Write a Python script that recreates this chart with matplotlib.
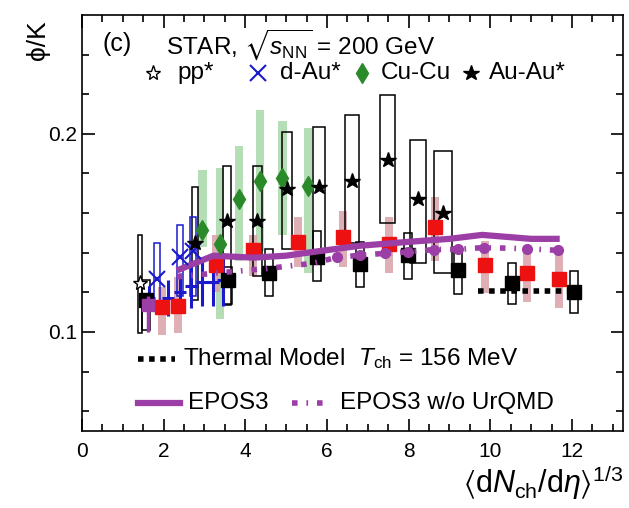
import numpy as np
import matplotlib
matplotlib.use("Agg")
import matplotlib.pyplot as plt
from matplotlib.patches import Rectangle

plt.rcParams['font.family'] = ['Liberation Sans', 'DejaVu Sans']
plt.rcParams['mathtext.fontset'] = 'custom'
plt.rcParams['mathtext.rm'] = 'Liberation Sans'
plt.rcParams['mathtext.it'] = 'Liberation Sans:italic'
plt.rcParams['mathtext.fallback'] = 'stixsans'

# STAR pp*
pp_x = [1.42]
pp_y = [0.1246]
pp_lo = [0.0995]
pp_hi = [0.149]

# STAR d-Au*
dau_x = [1.84, 2.40, 2.72]
dau_y = [0.1266, 0.1377, 0.1407]
dau_lo = [0.114, 0.118, 0.118]
dau_hi = [0.145, 0.154, 0.158]

# STAR Cu-Cu
cucu_x = [2.95, 3.38, 3.85, 4.36, 4.91, 5.54]
cucu_y = [0.1516, 0.1445, 0.1673, 0.176, 0.1779, 0.1735]
cucu_lo = [0.143, 0.1065, 0.136, 0.141, 0.149, 0.130]
cucu_hi = [0.182, 0.183, 0.194, 0.212, 0.2065, 0.203]

# STAR Au-Au*
auau_x = [2.77, 3.55, 4.29, 5.02, 5.80, 6.61, 7.49, 8.23, 8.84]
auau_y = [0.145, 0.156, 0.156, 0.172, 0.173, 0.176, 0.187, 0.167, 0.160]
auau_lo = [0.116, 0.1135, 0.128, 0.142, 0.141, 0.145, 0.155, 0.135, 0.130]
auau_hi = [0.173, 0.184, 0.184, 0.201, 0.2035, 0.2095, 0.2196, 0.197, 0.1915]

# blue crosses (small systems, other experiment)
bp_x = [1.65, 2.10, 2.40, 2.68, 2.95, 3.20, 3.45]
bp_y = [0.117, 0.117, 0.120, 0.123, 0.125, 0.125, 0.126]
bp_err = [0.006, 0.009, 0.010, 0.011, 0.012, 0.012, 0.013]

# red squares
red_x = [1.96, 2.35, 3.28, 4.19, 5.29, 6.39, 7.52, 8.65, 9.87, 10.90, 11.68]
red_y = [0.1126, 0.113, 0.1337, 0.1412, 0.1452, 0.1477, 0.1442, 0.1528, 0.1337, 0.1296, 0.1266]
red_lo = [0.0985, 0.0995, 0.120, 0.128, 0.133, 0.133, 0.130, 0.136, 0.1196, 0.115, 0.112]
red_hi = [0.1226, 0.1276, 0.149, 0.149, 0.158, 0.161, 0.158, 0.168, 0.146, 0.1427, 0.141]

# black squares
blk_x = [1.57, 3.58, 4.58, 5.75, 6.81, 7.98, 9.21, 10.53, 12.05]
blk_y = [0.116, 0.126, 0.1296, 0.1377, 0.1344, 0.1387, 0.1312, 0.1246, 0.1201]
blk_lo = [0.101, 0.114, 0.118, 0.1256, 0.1226, 0.1266, 0.119, 0.114, 0.1095]
blk_hi = [0.126, 0.133, 0.1417, 0.1508, 0.1452, 0.1497, 0.1427, 0.135, 0.131]

# purple square
pur_x = [1.62]
pur_y = [0.1136]
pur_lo = [0.100]
pur_hi = [0.118]

# models
epos_x = [2.32, 3.22, 4.2, 5.0, 5.7, 6.8, 8.0, 9.0, 9.8, 11.0, 11.7]
epos_y = [0.131, 0.1385, 0.1375, 0.1385, 0.1405, 0.1435, 0.1455, 0.147, 0.149, 0.147, 0.147]
nou_x = [2.32, 3.21, 4.53, 5.66, 6.25, 6.81, 7.42, 7.98, 8.62, 9.21, 9.85, 10.89, 11.65]
nou_y = [0.1278, 0.1296, 0.132, 0.1347, 0.1377, 0.1387, 0.1397, 0.1404, 0.1416, 0.1417, 0.1426, 0.142, 0.1412]
th_x = [9.7, 12.25]
th_y = [0.1206, 0.1206]

purple = '#9b3ea6'
green_fill = '#a9d9a9'
pink_fill = '#d9a3aa'
blue = '#1a1acc'
dashdot = (0, (1.0, 1.6, 0.3, 1.6))

fig = plt.figure(figsize=(6.29, 5.08), dpi=100)
ax = fig.add_axes([82/629, 1-431/508, 541/629, 416/508])


def boxes(xs, lo, hi, w, **kw):
    for x, l, h in zip(xs, lo, hi):
        ax.add_patch(Rectangle((x - w(x)/2, l), w(x), h - l, **kw))


# shaded sys boxes
boxes(cucu_x, cucu_lo, cucu_hi, lambda x: 0.2, facecolor=green_fill, edgecolor='none', alpha=0.85, zorder=1)
boxes(red_x, red_lo, red_hi, lambda x: 0.2, facecolor=pink_fill, edgecolor='none', alpha=0.85, zorder=1)
# open sys boxes
boxes(pp_x, pp_lo, pp_hi, lambda x: 0.12, facecolor='none', edgecolor='black', lw=1.1, zorder=2)
boxes(auau_x, auau_lo, auau_hi, lambda x: 0.05*x, facecolor='none', edgecolor='black', lw=1.1, zorder=2)
boxes(blk_x, blk_lo, blk_hi, lambda x: 0.2, facecolor='none', edgecolor='black', lw=1.1, zorder=2)
boxes(dau_x, dau_lo, dau_hi, lambda x: 0.15, facecolor='none', edgecolor=blue, lw=1.1, zorder=2)

ax.errorbar(bp_x, bp_y, yerr=bp_err, xerr=0.15, fmt='none', ecolor=blue, elinewidth=2.2, zorder=3)
ax.plot(th_x, th_y, color='black', lw=4, linestyle=(0, (1, 1)), zorder=3)
ax.plot(red_x, red_y, 's', color='#ee1111', ms=9.5, zorder=3)
ax.plot(blk_x, blk_y, 's', color='black', ms=10, zorder=4)
ax.errorbar(pur_x, pur_y, yerr=[[pur_y[0]-pur_lo[0]], [pur_hi[0]-pur_y[0]]], fmt='s', color=purple,
            ms=8, elinewidth=2.5, zorder=4)

ax.plot(epos_x, epos_y, color=purple, lw=4.5, solid_capstyle='butt', zorder=5)
ax.plot(nou_x, nou_y, color=purple, lw=4, linestyle=dashdot, zorder=5)
ax.plot(nou_x[4:], nou_y[4:], 'o', color=purple, ms=7, zorder=5)

ax.plot(pp_x, pp_y, '*', mfc='white', mec='black', mew=1.0, ms=11, zorder=6)
ax.plot(dau_x, dau_y, 'x', color=blue, ms=11, mew=1.5, zorder=6)
ax.plot(cucu_x, cucu_y, 'd', color='#2a8a2a', ms=10, zorder=6)
ax.plot(auau_x, auau_y, '*', color='black', ms=11.5, zorder=6)

ax.set_xlim(0, 13.25)
ax.set_ylim(0.05, 0.26)
ax.set_xticks([0, 2, 4, 6, 8, 10, 12])
ax.set_xticks(np.arange(0.5, 13.25, 0.5), minor=True)
ax.set_yticks([0.1, 0.2])
ax.set_yticklabels(['0.1', '0.2'])
ax.set_yticks([0.06, 0.08, 0.12, 0.14, 0.16, 0.18, 0.22, 0.24], minor=True)
ax.tick_params(which='both', direction='in', top=True, right=True, labelsize=15, width=1.2)
ax.tick_params(which='major', length=9)
ax.tick_params(which='minor', length=5)
ax.tick_params(axis='x', pad=8)
for s in ax.spines.values():
    s.set_linewidth(1.2)

fs = 17.5
tr = ax.transAxes
ax.text(0.037, 0.930, '(c)', transform=tr, fontsize=18, va='center')
ax.text(0.155, 0.930, r'STAR, $\sqrt{s_{\rm NN}}$ = 200 GeV', transform=tr, fontsize=fs, va='center')

ly = 0.861
ax.plot([0.131], [ly], '*', mfc='white', mec='black', ms=11, transform=tr, clip_on=False)
ax.text(0.177, ly, 'pp*', transform=tr, fontsize=fs, va='center')
ax.plot([0.325], [ly], 'x', color=blue, ms=11, mew=1.5, transform=tr, clip_on=False)
ax.text(0.366, ly, 'd-Au*', transform=tr, fontsize=fs, va='center')
ax.plot([0.518], [ly], 'd', color='#2a8a2a', ms=10, transform=tr, clip_on=False)
ax.text(0.553, ly, 'Cu-Cu', transform=tr, fontsize=fs, va='center')
ax.plot([0.719], [ly], '*', color='black', ms=11.5, transform=tr, clip_on=False)
ax.text(0.752, ly, 'Au-Au*', transform=tr, fontsize=fs, va='center')

ax.plot([0.1035, 0.172], [0.173, 0.173], color='black', lw=4, linestyle=(0, (1, 1)), transform=tr)
ax.text(0.187, 0.173, r'Thermal Model  $T_{\rm ch}$ = 156 MeV', transform=tr, fontsize=fs, va='center')
ax.plot([0.1035, 0.181], [0.067, 0.067], color=purple, lw=4.5, transform=tr)
ax.text(0.196, 0.067, 'EPOS3', transform=tr, fontsize=fs, va='center')
ax.plot([0.388, 0.455], [0.067, 0.067], color=purple, lw=4, linestyle=dashdot, transform=tr)
ax.text(0.477, 0.067, 'EPOS3 w/o UrQMD', transform=tr, fontsize=fs, va='center')

fig.text(38/629, 1-40/508, 'ϕ/K', rotation=90, fontsize=19, ha='center', va='center')
fig.text(623/629, 1-482/508, r'$\langle {\rm d}N_{\rm ch}/{\rm d}\eta\rangle^{1/3}$', fontsize=22,
         ha='right', va='center')

fig.savefig('out.png', dpi=100)
